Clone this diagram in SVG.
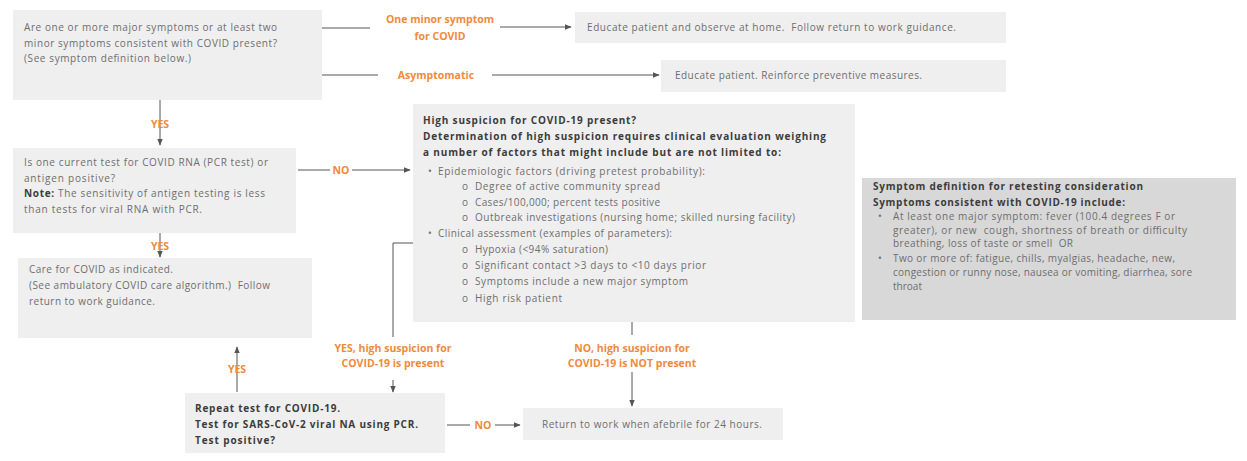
<svg xmlns="http://www.w3.org/2000/svg" width="1247" height="461" viewBox="0 0 1247 461">
<style>
text{font-family:"Open Sans","Noto Sans","Liberation Sans",sans-serif;font-size:10px;fill:#6e6e6e}
.b{font-weight:bold;fill:#3c3c3c}
.o{font-weight:bold;fill:#ef8a3c;font-size:10.5px}
.box{fill:#efefef}
.dbox{fill:#d8d8d8}
.ln{stroke:#555;stroke-width:1;fill:none}
</style>
<defs>
<marker id="ah" viewBox="0 0 10 10" refX="9" refY="5" markerWidth="7" markerHeight="7" markerUnits="userSpaceOnUse" orient="auto">
<path d="M0,1 L10,5 L0,9 z" fill="#555"/>
</marker>
</defs>
<rect width="1247" height="461" fill="#fff"/>

<g id="connectors">
<line class="ln" x1="322" y1="28" x2="370" y2="28"/>
<line class="ln" x1="500" y1="27" x2="571" y2="27" marker-end="url(#ah)"/>
<line class="ln" x1="322" y1="75" x2="378" y2="75"/>
<line class="ln" x1="492" y1="75" x2="659" y2="75" marker-end="url(#ah)"/>
<line class="ln" x1="160" y1="100" x2="160" y2="145" marker-end="url(#ah)"/>
<line class="ln" x1="298" y1="170" x2="330" y2="170"/>
<line class="ln" x1="352" y1="170" x2="410" y2="170" marker-end="url(#ah)"/>
<line class="ln" x1="160" y1="233" x2="160" y2="257" marker-end="url(#ah)"/>
<polyline class="ln" points="413,243 393,243 393,337"/>
<line class="ln" x1="393" y1="380" x2="393" y2="392" marker-end="url(#ah)"/>
<line class="ln" x1="632" y1="322" x2="632" y2="335"/>
<line class="ln" x1="632" y1="372" x2="632" y2="406" marker-end="url(#ah)"/>
<line class="ln" x1="237" y1="392" x2="237" y2="347" marker-end="url(#ah)"/>
<line class="ln" x1="447" y1="425" x2="470" y2="425"/>
<line class="ln" x1="495" y1="425" x2="520" y2="425" marker-end="url(#ah)"/>
<text class="o" x="440" y="23" text-anchor="middle">One minor symptom</text>
<text class="o" x="440" y="40" text-anchor="middle">for COVID</text>
<text class="o" x="436" y="79" text-anchor="middle">Asymptomatic</text>
<text class="o" x="160" y="128" text-anchor="middle" font-size="9.5">YES</text>
<text class="o" x="341" y="174" text-anchor="middle" font-size="9.5">NO</text>
<text class="o" x="160" y="250" text-anchor="middle" font-size="9.5">YES</text>
<text class="o" x="393" y="352" text-anchor="middle">YES, high suspicion for</text>
<text class="o" x="393" y="367" text-anchor="middle">COVID-19 is present</text>
<text class="o" x="632" y="352" text-anchor="middle">NO, high suspicion for</text>
<text class="o" x="632" y="367" text-anchor="middle">COVID-19 is NOT present</text>
<text class="o" x="237" y="373" text-anchor="middle" font-size="9.5">YES</text>
<text class="o" x="483" y="429" text-anchor="middle" font-size="9.5">NO</text>
</g>

<g id="q1">
<rect class="box" x="13" y="10" width="309" height="90"/>
<text x="24" y="31" textLength="253">Are one or more major symptoms or at least two</text>
<text x="24" y="47" textLength="253">minor symptoms consistent with COVID present?</text>
<text x="24" y="62" textLength="167">(See symptom definition below.)</text>
</g>

<g id="minor">
<rect class="box" x="575" y="12" width="431" height="31"/>
<text x="587" y="31" textLength="369" xml:space="preserve">Educate patient and observe at home.  Follow return to work guidance.</text>
</g>

<g id="asym">
<rect class="box" x="661" y="60" width="345" height="32"/>
<text x="675" y="79" textLength="247">Educate patient. Reinforce preventive measures.</text>
</g>

<g id="q2">
<rect class="box" x="13" y="148" width="283" height="85"/>
<text x="24" y="166" textLength="244">Is one current test for COVID RNA (PCR test) or</text>
<text x="24" y="182" textLength="91">antigen positive?</text>
<text x="24" y="197" textLength="241"><tspan class="b">Note:</tspan> The sensitivity of antigen testing is less</text>
<text x="24" y="213" textLength="178">than tests for viral RNA with PCR.</text>
</g>

<g id="care">
<rect class="box" x="18" y="258" width="294" height="80"/>
<text x="29" y="273" textLength="144">Care for COVID as indicated.</text>
<text x="29" y="289" textLength="241" xml:space="preserve">(See ambulatory COVID care algorithm.)  Follow</text>
<text x="29" y="305" textLength="126">return to work guidance.</text>
</g>

<g id="suspicion">
<rect class="box" x="413" y="104" width="442" height="218"/>
<text class="b" x="423" y="124" textLength="213">High suspicion for COVID-19 present?</text>
<text class="b" x="423" y="140" textLength="403">Determination of high suspicion requires clinical evaluation weighing</text>
<text class="b" x="423" y="156" textLength="358">a number of factors that might include but are not limited to:</text>
<text x="428" y="175">•</text>
<text x="438" y="175" textLength="267">Epidemiologic factors (driving pretest probability):</text>
<text x="462" y="190">o</text>
<text x="475" y="190" textLength="185">Degree of active community spread</text>
<text x="462" y="206">o</text>
<text x="475" y="206" textLength="185">Cases/100,000; percent tests positive</text>
<text x="462" y="221">o</text>
<text x="475" y="221" textLength="320">Outbreak investigations (nursing home; skilled nursing facility)</text>
<text x="428" y="237">•</text>
<text x="438" y="237" textLength="234">Clinical assessment (examples of parameters):</text>
<text x="462" y="253">o</text>
<text x="475" y="253" textLength="133">Hypoxia (&lt;94% saturation)</text>
<text x="462" y="269">o</text>
<text x="475" y="269" textLength="231">Significant contact &gt;3 days to &lt;10 days prior</text>
<text x="462" y="285">o</text>
<text x="475" y="285" textLength="213">Symptoms include a new major symptom</text>
<text x="462" y="302">o</text>
<text x="475" y="302" textLength="87">High risk patient</text>
</g>

<g id="repeat">
<rect class="box" x="185" y="393" width="260" height="60"/>
<text class="b" x="195" y="412" textLength="145">Repeat test for COVID-19.</text>
<text class="b" x="195" y="428" textLength="223">Test for SARS-CoV-2 viral NA using PCR.</text>
<text class="b" x="195" y="444" textLength="80">Test positive?</text>
</g>

<g id="rtw">
<rect class="box" x="523" y="408" width="260" height="32"/>
<text x="542" y="428" textLength="220">Return to work when afebrile for 24 hours.</text>
</g>

<g id="symptomdef">
<rect class="dbox" x="862" y="178" width="374" height="142"/>
<text class="b" x="873" y="190" textLength="270">Symptom definition for retesting consideration</text>
<text class="b" x="873" y="206" textLength="252">Symptoms consistent with COVID-19 include:</text>
<text x="878" y="220">•</text>
<text x="893" y="220" textLength="282">At least one major symptom: fever (100.4 degrees F or</text>
<text x="893" y="234" textLength="294" xml:space="preserve">greater), or new  cough, shortness of breath or difficulty</text>
<text x="893" y="247" textLength="180" xml:space="preserve">breathing, loss of taste or smell  OR</text>
<text x="878" y="262">•</text>
<text x="893" y="262" textLength="282">Two or more of: fatigue, chills, myalgias, headache, new,</text>
<text x="893" y="276" textLength="299">congestion or runny nose, nausea or vomiting, diarrhea, sore</text>
<text x="893" y="290" textLength="29">throat</text>
</g>
</svg>
